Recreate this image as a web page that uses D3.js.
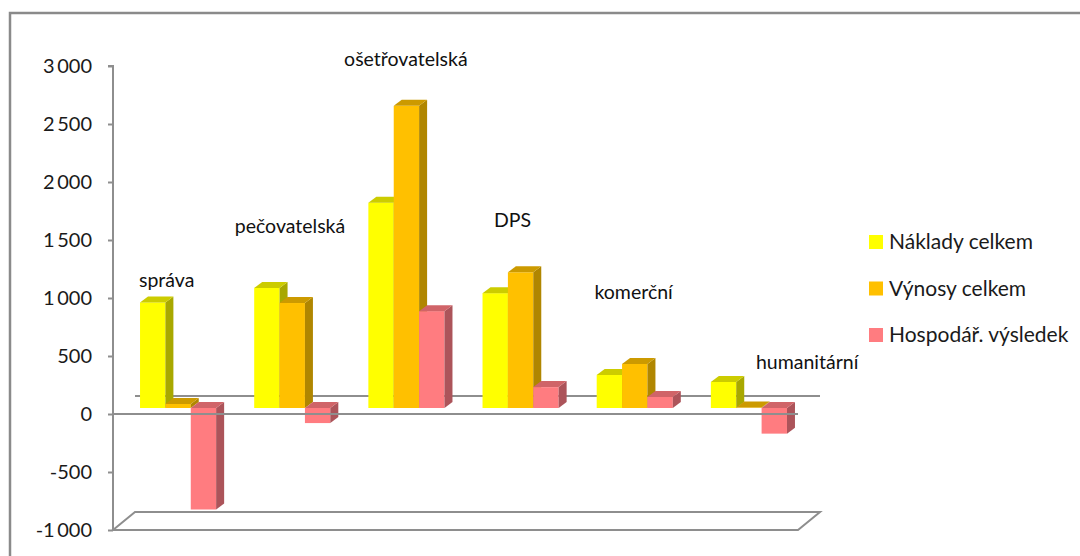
<!DOCTYPE html>
<html><head><meta charset="utf-8">
<script src="https://cdn.jsdelivr.net/npm/d3@7"></script>
<style>html,body{margin:0;padding:0;background:#fff;}svg{display:block;font-family:Lato,"Open Sans",sans-serif;}</style>
</head><body>
<svg id="c" width="1080" height="556"></svg>
<script>
const categories = ["správa","pečovatelská","ošetřovatelská","DPS","komerční","humanitární"];
const seriesNames = ["Náklady celkem","Výnosy celkem","Hospodář. výsledek"];
const naklady = [910, 1035, 1770, 990, 285, 225];
const vynosy  = [35, 905, 2605, 1170, 380, 4];
const vysledek = [-875, -130, 835, 180, 95, -221];
const tickValues = [-1000,-500,0,500,1000,1500,2000,2500,3000];
// category label anchors: value level (data units) and shift (fraction of band step)
const labelLevel = [1095, 1560, 3000, 1612, 991, 388];
const labelShift = [-0.03, 0.05, 0.065, 0.0, 0.06, 0.58];

const series = [naklady, vynosy, vysledek];
const colors = [
  {front:"#FFFF00", top:"#CCCC00", side:"#A8A800"},
  {front:"#FFC000", top:"#CC9A00", side:"#B08600"},
  {front:"#FF7C80", top:"#D06468", side:"#AC545A"}
];

const svg = d3.select("#c");
const lineCol = "#8E8E8E";
const y = d3.scaleLinear().domain([-1000,3000]).range([530,66]);
const x = d3.scaleBand().domain(categories).range([113,798]).paddingInner(1/3).paddingOuter(1/6);
const xs = d3.scaleBand().domain(d3.range(3)).range([0, x.bandwidth()]);
const D = {dx:22, dy:-18};       // full depth
const F = {dx:8, dy:-6};         // front gap to bar face
const T = {dx:8, dy:-6};         // bar thickness

// border
svg.append("path").attr("d","M10,556V13H1080").attr("fill","none").attr("stroke","#8A8A8A").attr("stroke-width",2.5);

// back zero line
svg.append("line").attr("x1",113+D.dx).attr("x2",798+D.dx).attr("y1",y(0)+D.dy).attr("y2",y(0)+D.dy)
  .attr("stroke",lineCol).attr("stroke-width",2);
// floor
const yb = y(-1000);
svg.append("path")
  .attr("d",`M113,${yb}L${113+D.dx},${yb+D.dy}L${798+D.dx},${yb+D.dy}L798,${yb}Z`)
  .attr("fill","none").attr("stroke",lineCol).attr("stroke-width",2);

// axis
const axis = d3.axisLeft(y).tickValues(tickValues).tickSize(5).tickPadding(16)
  .tickFormat(d => d3.format(",")(d).replace(/,/g,"\u2009").replace("\u2212","-"));
const ga = svg.append("g").attr("transform","translate(113,0)").call(axis);
ga.select(".domain").attr("stroke",lineCol).attr("stroke-width",2).attr("d",`M-5,${y(3000)}H0V${y(-1000)}`);
ga.selectAll(".tick line").attr("stroke",lineCol).attr("stroke-width",2);
ga.selectAll(".tick text").attr("font-size",20).attr("fill","#1a1a1a").attr("font-family","Lato,sans-serif");

// bars
const gBars = svg.append("g");
categories.forEach((c,i)=>{
  series.forEach((s,j)=>{
    const v = s[i];
    const x0 = x(c) + xs(j) + F.dx;
    const w = xs.bandwidth();
    const yv = y(v) + F.dy, yz = y(0) + F.dy;
    const yt = Math.min(yv,yz), yB = Math.max(yv,yz);
    const col = colors[j];
    gBars.append("rect").attr("x",x0).attr("y",yt).attr("width",w).attr("height",Math.max(0,yB-yt)).attr("fill",col.front);
    gBars.append("path").attr("d",`M${x0+w},${yt}L${x0+w+T.dx},${yt+T.dy}L${x0+w+T.dx},${yB+T.dy}L${x0+w},${yB}Z`).attr("fill",col.side);
    gBars.append("path").attr("d",`M${x0},${yt}L${x0+T.dx},${yt+T.dy}L${x0+w+T.dx},${yt+T.dy}L${x0+w},${yt}Z`).attr("fill",col.top);
  });
});

// front zero line
svg.append("line").attr("x1",113).attr("x2",798).attr("y1",y(0)).attr("y2",y(0))
  .attr("stroke",lineCol).attr("stroke-width",2);

// category labels
svg.append("g").selectAll("text").data(categories).join("text")
  .attr("x",(d,i)=>x(d)+x.bandwidth()/2+labelShift[i]*x.step())
  .attr("y",(d,i)=>y(labelLevel[i]))
  .attr("text-anchor","middle").attr("font-size",19.5).attr("fill","#111").text(d=>d);

// legend
const lg = svg.append("g");
seriesNames.forEach((n,j)=>{
  const cy = 242 + j*46.5;
  lg.append("rect").attr("x",869).attr("y",cy-7).attr("width",14).attr("height",14).attr("fill",colors[j].front);
  lg.append("text").attr("x",889).attr("y",cy+7).attr("font-size",21).attr("fill","#1a1a1a").text(n);
});
</script>
</body></html>
